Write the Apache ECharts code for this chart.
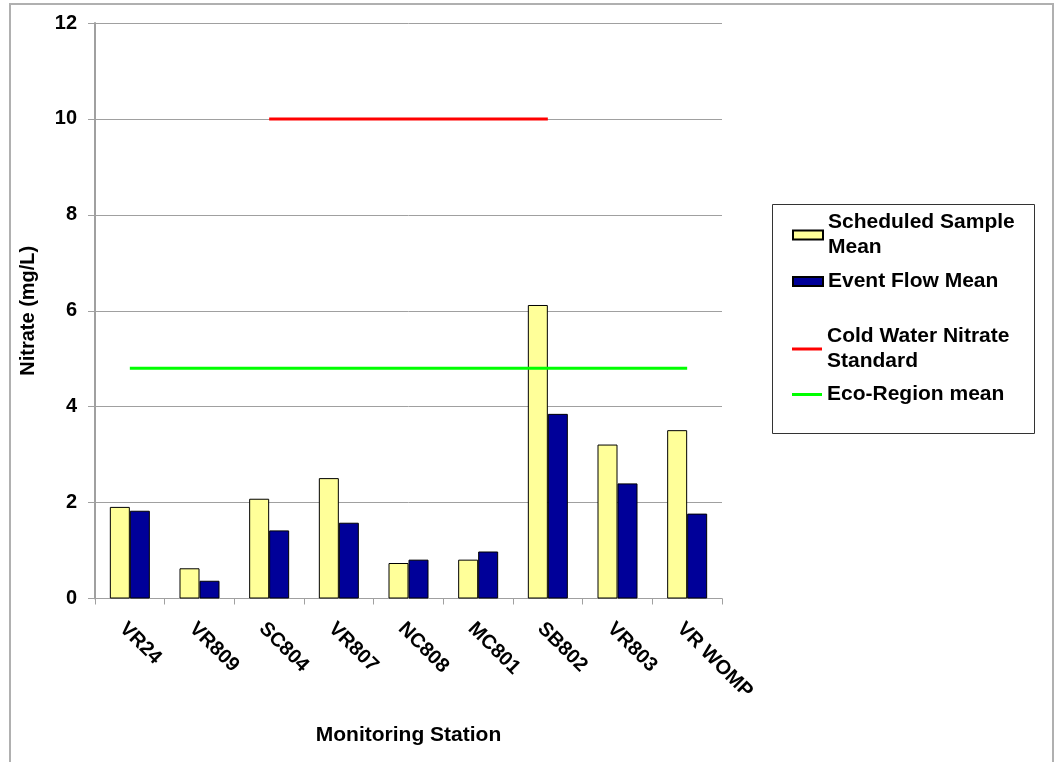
<!DOCTYPE html>
<html>
<head>
<meta charset="utf-8">
<script src="https://cdn.jsdelivr.net/npm/echarts@6/dist/echarts.min.js"></script>
<style>
  html, body { margin: 0; padding: 0; background: #fff; }
  #chart { width: 1062px; height: 762px; }
</style>
</head>
<body>
<div id="chart"></div>
<script>
// Monitoring stations along the x axis
const stations = ['VR24', 'VR809', 'SC804', 'VR807', 'NC808', 'MC801', 'SB802', 'VR803', 'VR WOMP'];

// Nitrate means (mg/L)
const scheduledMean = [1.91, 0.63, 2.08, 2.51, 0.74, 0.81, 6.12, 3.21, 3.51];
const eventFlowMean = [1.83, 0.37, 1.42, 1.58, 0.81, 0.98, 3.85, 2.40, 1.77];

// Reference levels, drawn across a span of stations
const coldWaterStandard = [null, null, 10, 10, 10, 10, 10, null, null];
const ecoRegionMean = [4.8, 4.8, 4.8, 4.8, 4.8, 4.8, 4.8, 4.8, 4.8];

// Y axis range
const yMin = 0, yMax = 12, yStep = 2;

const FONT = '"Liberation Sans", Arial, sans-serif';
const chart = echarts.init(document.getElementById('chart'), null, { renderer: 'canvas' });

const legendText = {
  fontFamily: FONT, fontWeight: 'bold', fontSize: 21, color: '#000', lineHeight: 25
};
const legendNames = {
  'Scheduled Sample Mean': 'Scheduled Sample\nMean',
  'Cold Water Nitrate Standard': 'Cold Water Nitrate\nStandard'
};

chart.setOption({
  animation: false,
  backgroundColor: '#fff',
  graphic: [
    { type: 'rect', shape: { x: 10, y: 4, width: 1043, height: 770 },
      style: { fill: 'none', stroke: '#b0b0b0', lineWidth: 2 }, silent: true, z: -1 },
    { type: 'rect', shape: { x: 772.5, y: 204.5, width: 262, height: 229 },
      style: { fill: 'none', stroke: '#333', lineWidth: 1 }, silent: true }
  ],
  grid: { left: 95, top: 23, width: 627, height: 575.5, containLabel: false },
  legend: [
    {
      data: [
        { name: 'Scheduled Sample Mean', icon: 'rect' },
        { name: 'Event Flow Mean', icon: 'rect' }
      ],
      orient: 'vertical', left: 792, top: 210, padding: 0,
      itemWidth: 30, itemHeight: 9, itemGap: 9,
      textStyle: legendText,
      formatter: n => legendNames[n] || n,
      selectedMode: false
    },
    {
      data: [
        { name: 'Cold Water Nitrate Standard', icon: 'rect' },
        { name: 'Eco-Region mean', icon: 'rect' }
      ],
      orient: 'vertical', left: 792, top: 324, padding: 0,
      itemWidth: 30, itemHeight: 3, itemGap: 8,
      textStyle: legendText,
      formatter: n => legendNames[n] || n,
      selectedMode: false
    }
  ],
  xAxis: {
    type: 'category',
    data: stations,
    name: 'Monitoring Station',
    nameLocation: 'middle',
    nameGap: 126,
    nameTextStyle: { fontFamily: FONT, fontWeight: 'bold', fontSize: 21, color: '#000' },
    axisLine: { lineStyle: { color: '#a0a0a0', width: 1 } },
    axisTick: { show: true, length: 6, lineStyle: { color: '#a0a0a0' } },
    axisLabel: {
      rotate: -45, margin: 20, interval: 0, verticalAlign: 'top',
      fontFamily: FONT, fontWeight: 'bold', fontSize: 20, color: '#000'
    },
    splitLine: { show: false }
  },
  yAxis: {
    type: 'value',
    min: yMin, max: yMax, interval: yStep,
    name: 'Nitrate (mg/L)',
    nameLocation: 'middle',
    nameGap: 57,
    nameRotate: 90,
    nameTextStyle: { fontFamily: FONT, fontWeight: 'bold', fontSize: 20, color: '#000' },
    axisLine: { show: true, lineStyle: { color: '#a0a0a0', width: 2 } },
    axisTick: { show: true, length: 7, lineStyle: { color: '#a0a0a0' } },
    axisLabel: { margin: 18, fontFamily: FONT, fontWeight: 'bold', fontSize: 20, color: '#000' },
    splitLine: { show: true, lineStyle: { color: '#a0a0a0', width: 1 } }
  },
  series: [
    {
      name: 'Scheduled Sample Mean', type: 'bar', data: scheduledMean,
      barWidth: 20, barGap: '0%',
      itemStyle: { color: '#FFFF99', borderColor: '#000', borderWidth: 1 }
    },
    {
      name: 'Event Flow Mean', type: 'bar', data: eventFlowMean,
      barWidth: 20, barGap: '0%',
      itemStyle: { color: '#000099', borderColor: '#000', borderWidth: 1 }
    },
    {
      name: 'Cold Water Nitrate Standard', type: 'line', data: coldWaterStandard,
      symbol: 'none', connectNulls: false,
      lineStyle: { color: '#FF0000', width: 3 }, itemStyle: { color: '#FF0000' }, z: 5
    },
    {
      name: 'Eco-Region mean', type: 'line', data: ecoRegionMean,
      symbol: 'none',
      lineStyle: { color: '#00FF00', width: 3 }, itemStyle: { color: '#00FF00' }, z: 5
    }
  ]
});
</script>
</body>
</html>
